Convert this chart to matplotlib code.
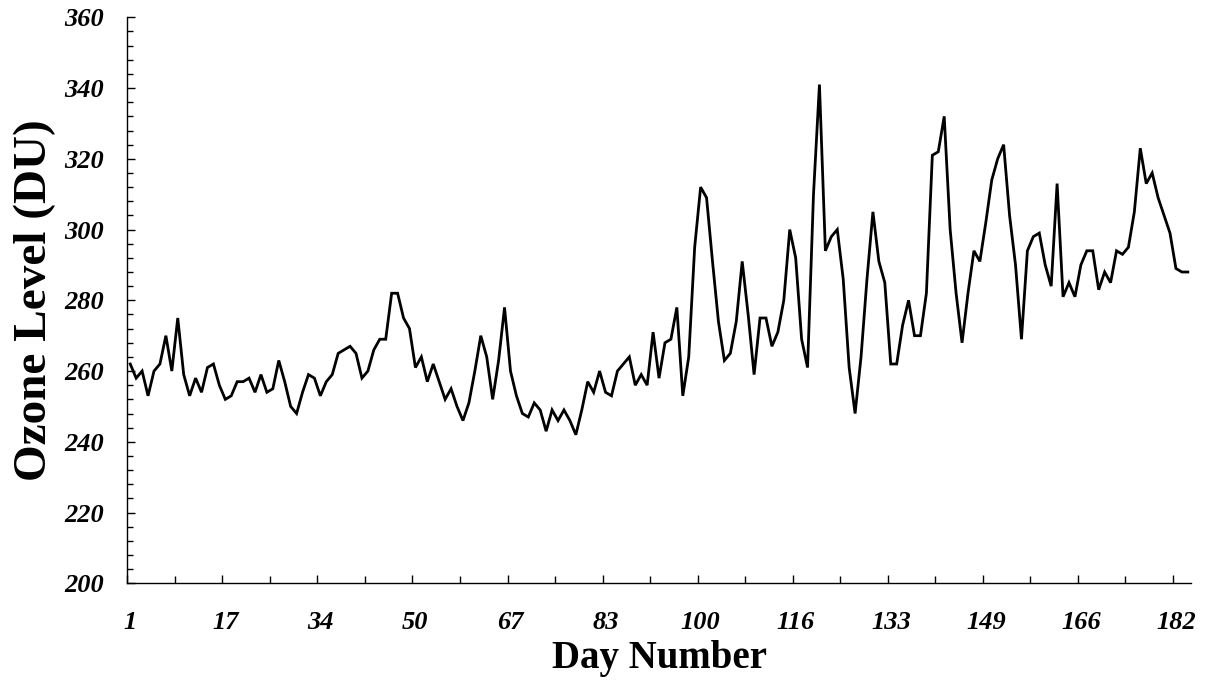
import matplotlib.pyplot as plt
import matplotlib.transforms as mtransforms
import numpy as np

# daily total ozone, one value per observed day (missing days skipped)
ozone = [
    262, 258, 260, 253, 260, 262, 270, 260, 275, 259,
    253, 258, 254, 261, 262, 256, 252, 253, 257, 257,
    258, 254, 259, 254, 255, 263, 257, 250, 248, 254,
    259, 258, 253, 257, 259, 265, 266, 267, 265, 258,
    260, 266, 269, 269, 282, 282, 275, 272, 261, 264,
    257, 262, 257, 252, 255, 250, 246, 251, 260, 270,
    264, 252, 263, 278, 260, 253, 248, 247, 251, 249,
    243, 249, 246, 249, 246, 242, 249, 257, 254, 260,
    254, 253, 260, 262, 264, 256, 259, 256, 271, 258,
    268, 269, 278, 253, 264, 295, 312, 309, 291, 274,
    263, 265, 274, 291, 276, 259, 275, 275, 267, 271,
    280, 300, 292, 269, 261, 310, 341, 294, 298, 300,
    286, 261, 248, 264, 286, 305, 291, 285, 262, 262,
    273, 280, 270, 270, 282, 321, 322, 332, 300, 282,
    268, 282, 294, 291, 302, 314, 320, 324, 304, 290,
    269, 294, 298, 299, 290, 284, 313, 281, 285, 281,
    290, 294, 294, 283, 288, 285, 294, 293, 295, 305,
    323, 313, 316, 309, 304, 299, 289, 288, 288,
]
# day number shown under every 16th observation
day_labels = ['1', '17', '34', '50', '67', '83', '100', '116',
              '133', '149', '166', '182']
label_step = 16

serif = ['Liberation Serif', 'DejaVu Serif']

fig = plt.figure(figsize=(12.12, 6.93), dpi=100)
ax = fig.add_axes([0.105, 0.1583, 0.8775, 0.8167])

x = np.arange(len(ozone))
ax.plot(x, ozone, color='black', lw=2.0, solid_joinstyle='miter')

ax.set_xlim(-0.5, len(ozone) - 0.5)
ax.set_ylim(200, 360)

# category style axis: ticks on the boundaries, labels on the points
major_x = np.arange(-0.5, len(ozone), label_step)
minor_x = np.arange(-0.5 + label_step / 2, len(ozone) - 0.5, label_step)
ax.set_xticks(major_x)
ax.set_xticks(minor_x, minor=True)
ax.set_xticklabels(day_labels)

ax.set_yticks(np.arange(200, 361, 20))
ax.set_yticks(np.arange(200, 361, 4), minor=True)

for side in ['top', 'right']:
    ax.spines[side].set_visible(False)
for side in ['left', 'bottom']:
    ax.spines[side].set_linewidth(1.0)

ax.tick_params(axis='x', which='major', direction='in', length=5.8, width=1.0, pad=20)
ax.tick_params(axis='x', which='minor', direction='in', length=4.8, width=1.0)
ax.tick_params(axis='y', which='major', direction='in', length=5.8, width=1.0, pad=17)
ax.tick_params(axis='y', which='minor', direction='in', length=4.3, width=1.0)

for lab in ax.get_xticklabels() + ax.get_yticklabels():
    lab.set_family(serif)
    lab.set_fontsize(19)
    lab.set_fontweight('bold')
    lab.set_fontstyle('italic')

shift = mtransforms.ScaledTranslation(3 / 100, 0, fig.dpi_scale_trans)
for lab in ax.get_xticklabels():
    lab.set_transform(lab.get_transform() + shift)

ax.set_xlabel('Day Number', family=serif, fontsize=28, fontweight='bold', labelpad=4)
ax.set_ylabel('Ozone Level (DU)', family=serif, fontsize=34, fontweight='bold', labelpad=6)

fig.savefig('out.png', dpi=100)
